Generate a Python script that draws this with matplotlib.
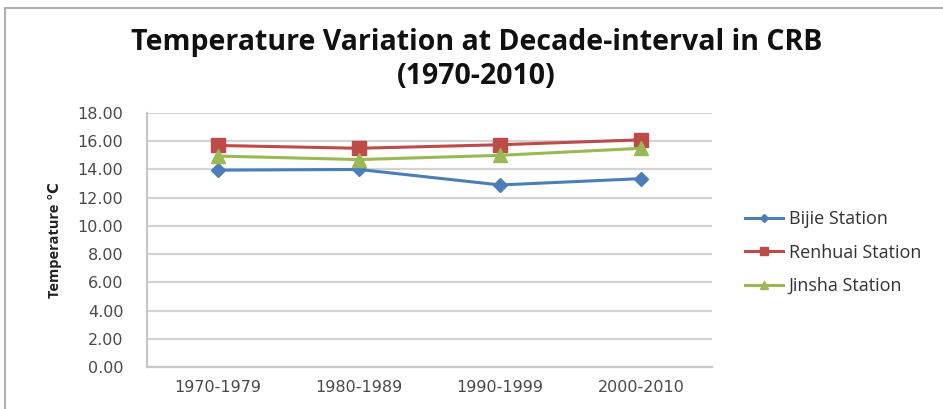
import matplotlib.pyplot as plt
from matplotlib.lines import Line2D

decades = ["1970-1979", "1980-1989", "1990-1999", "2000-2010"]
bijie = [13.95, 14.0, 12.9, 13.35]
renhuai = [15.7, 15.5, 15.75, 16.1]
jinsha = [14.95, 14.7, 15.0, 15.5]
yticks = [0, 2, 4, 6, 8, 10, 12, 14, 16, 18]

fig = plt.figure(figsize=(9.43, 4.09), dpi=100)
ax = fig.add_axes([147 / 943, 1 - 367 / 409, (712 - 147) / 943, (367 - 113) / 409])

x = range(len(decades))
ax.plot(x, bijie, color="#4a7ebb", lw=2.2, marker="D", ms=7.5, label="Bijie Station")
ax.plot(x, renhuai, color="#be4b48", lw=2.2, marker="s", ms=9.5, label="Renhuai Station")
ax.plot(x, jinsha, color="#98b954", lw=2.2, marker="^", ms=9.5, label="Jinsha Station")

ax.set_xlim(-0.5, 3.5)
ax.set_ylim(0, 18)
ax.set_yticks(yticks)
ax.set_yticklabels(["%.2f" % v for v in yticks])
ax.set_xticks(list(x))
ax.set_xticklabels(decades)
ax.tick_params(length=0, labelsize=11.5, colors="#4a4a4a")
ax.tick_params(axis="y", pad=17)
ax.tick_params(axis="x", pad=9)
ax.grid(axis="y", color="#d4d4d4", lw=1.6)
ax.set_axisbelow(True)
for side in ["top", "right"]:
    ax.spines[side].set_visible(False)
for side in ["left", "bottom"]:
    ax.spines[side].set_color("#c8c8c8")
    ax.spines[side].set_linewidth(1.6)

ax.set_ylabel("Temperature \u2103", family=["Open Sans", "DejaVu Sans"], fontsize=10.5,
              fontweight="bold", color="#222222", labelpad=11)

fig.text(0.505, 0.855, "Temperature Variation at Decade-interval in CRB\n(1970-2010)",
         ha="center", va="center", fontsize=20.5, fontweight="bold", family="Open Sans",
         color="#111111", linespacing=1.22)

leg = ax.legend(loc="center left", bbox_to_anchor=(1.03, 0.45), frameon=False,
                prop={"family": "Open Sans", "size": 13}, handlelength=2.1,
                labelspacing=0.85, handletextpad=0.3, markerscale=0.6)
for t in leg.get_texts():
    t.set_color("#333333")

# outer chart border
fig.add_artist(Line2D([5 / 943, 5 / 943], [0, 1 - 8 / 409], color="#b0b0b0", lw=1.5))
fig.add_artist(Line2D([5 / 943, 1], [1 - 8 / 409, 1 - 8 / 409], color="#b0b0b0", lw=1.5))

fig.savefig("out.png", dpi=100)
